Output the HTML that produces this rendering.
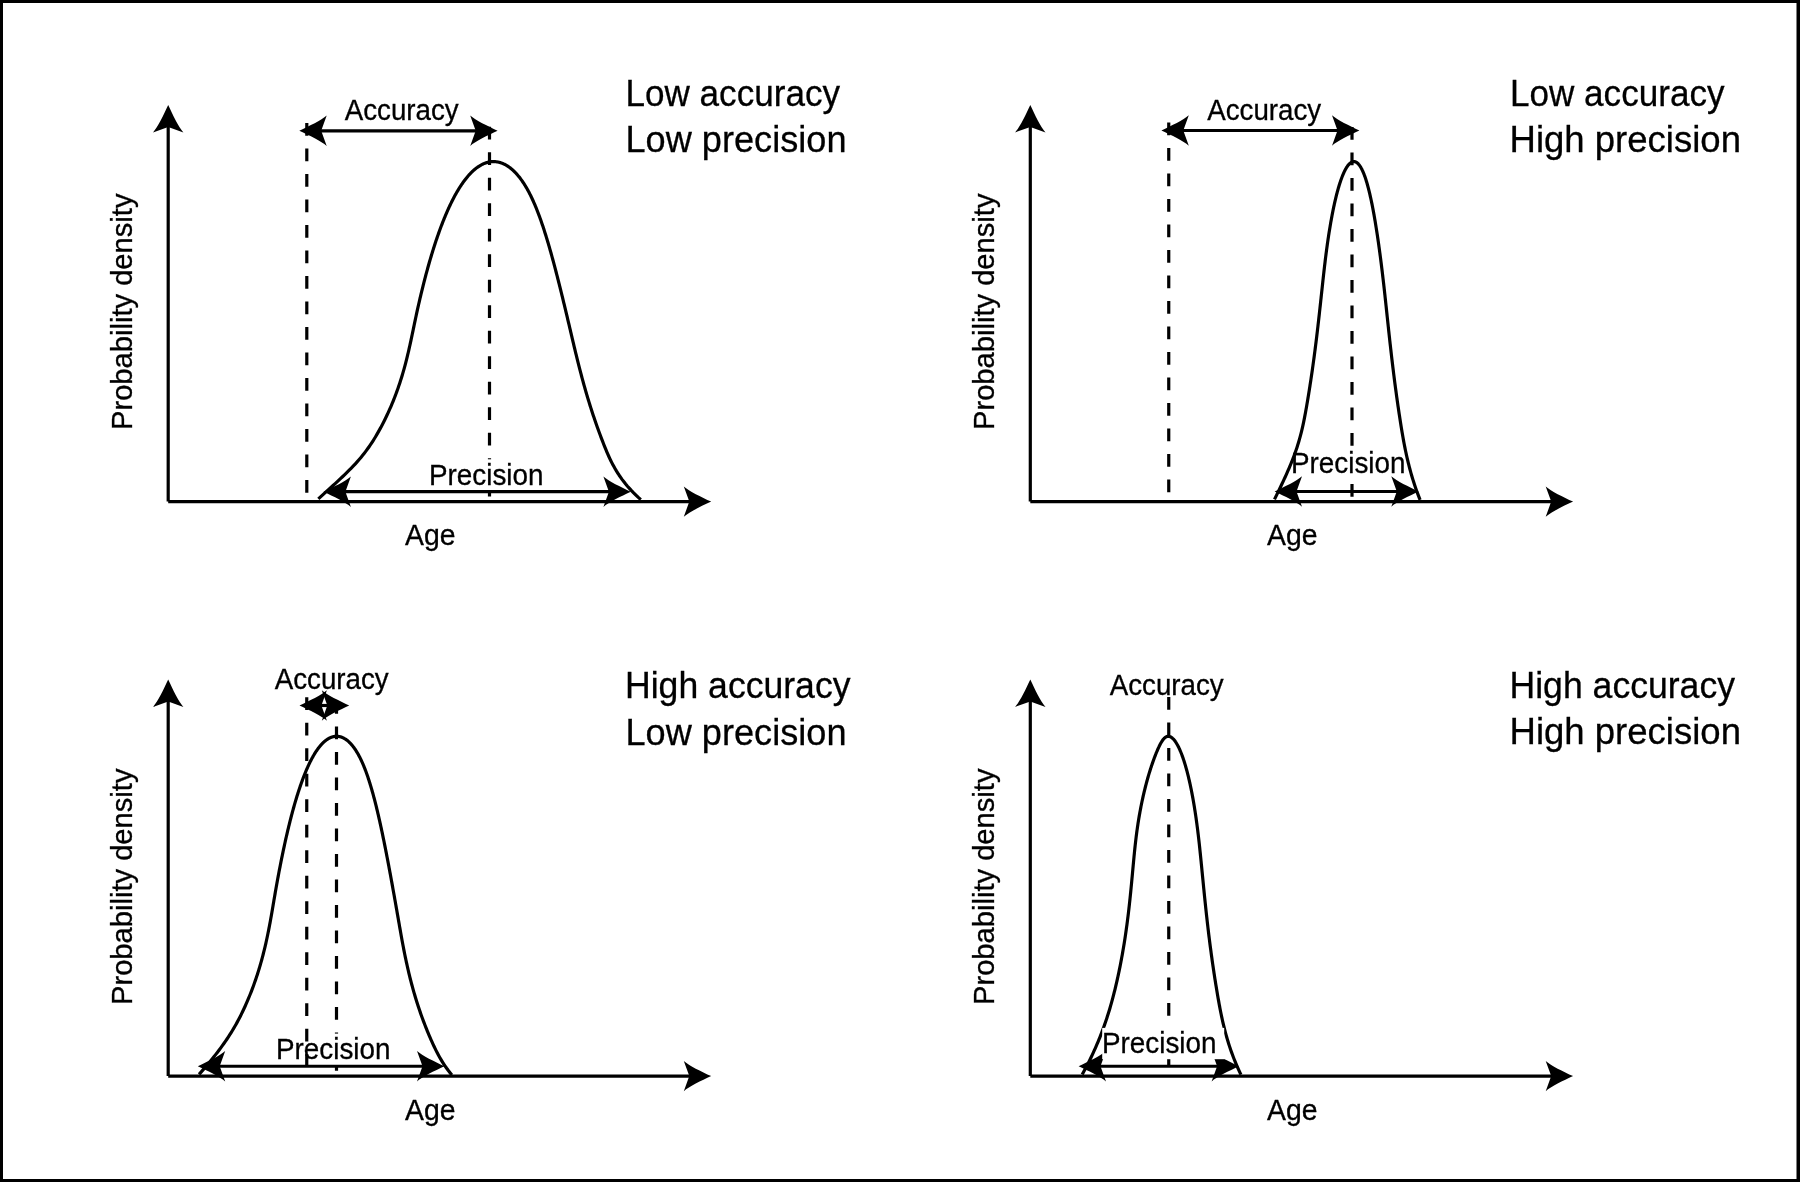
<!DOCTYPE html>
<html><head><meta charset="utf-8"><title>Accuracy and precision</title>
<style>
html,body{margin:0;padding:0;background:#fff;}
body{width:1800px;height:1182px;overflow:hidden;position:relative;font-family:"Liberation Sans",sans-serif;}
svg{position:absolute;left:0;top:0;will-change:transform;}
text{font-family:"Liberation Sans",sans-serif;fill:#000;stroke:#000;stroke-width:0.3px;}
</style></head>
<body>
<svg width="1800" height="1182" viewBox="0 0 1800 1182">
<rect x="0" y="0" width="1800" height="1182" fill="#fff"/>
<!-- panel 1 -->
<line x1="489.5" y1="126.8" x2="489.5" y2="501" stroke="#000" stroke-width="3.19" stroke-dasharray="12.75 12.75" stroke-dashoffset="0"/>
<path d="M318.34,498.90 L320.80,496.65 L323.27,494.41 L325.73,492.17 L328.18,489.95 L330.63,487.73 L333.05,485.51 L335.46,483.31 L337.84,481.11 L340.19,478.92 L342.50,476.74 L344.77,474.57 L347.00,472.40 L349.18,470.24 L351.30,468.09 L353.37,465.94 L355.37,463.81 L357.30,461.68 L359.16,459.56 L360.94,457.44 L362.66,455.33 L364.32,453.23 L365.91,451.14 L367.44,449.06 L368.92,446.98 L370.34,444.91 L371.71,442.85 L373.04,440.80 L374.32,438.75 L375.56,436.71 L376.76,434.68 L377.92,432.66 L379.05,430.64 L380.16,428.63 L381.23,426.63 L382.28,424.64 L383.31,422.65 L384.31,420.67 L385.29,418.70 L386.24,416.74 L387.17,414.78 L388.08,412.83 L388.97,410.89 L389.83,408.96 L390.68,407.03 L391.50,405.11 L392.30,403.20 L393.08,401.30 L393.84,399.40 L394.59,397.51 L395.31,395.63 L396.02,393.76 L396.70,391.89 L397.37,390.03 L398.03,388.18 L398.66,386.34 L399.29,384.50 L399.89,382.68 L400.48,380.85 L401.06,379.04 L401.62,377.24 L402.16,375.44 L402.70,373.65 L403.21,371.86 L403.72,370.09 L404.22,368.32 L404.70,366.56 L405.17,364.81 L405.63,363.06 L406.08,361.32 L406.52,359.59 L406.95,357.87 L407.37,356.16 L407.78,354.45 L408.19,352.75 L408.58,351.05 L408.97,349.37 L409.35,347.69 L409.73,346.02 L410.09,344.36 L410.46,342.70 L410.81,341.06 L411.16,339.42 L411.51,337.78 L411.85,336.16 L412.19,334.54 L412.53,332.93 L412.86,331.33 L413.20,329.73 L413.52,328.15 L413.85,326.57 L414.18,324.99 L414.50,323.43 L414.83,321.87 L415.16,320.32 L415.48,318.78 L415.81,317.25 L416.14,315.72 L416.46,314.20 L416.79,312.69 L417.12,311.18 L417.45,309.69 L417.79,308.20 L418.12,306.71 L418.45,305.24 L418.78,303.77 L419.12,302.31 L419.45,300.86 L419.79,299.42 L420.12,297.98 L420.46,296.55 L420.80,295.13 L421.14,293.72 L421.48,292.31 L421.82,290.91 L422.16,289.52 L422.50,288.13 L422.84,286.76 L423.18,285.39 L423.52,284.03 L423.87,282.67 L424.21,281.33 L424.56,279.99 L424.90,278.66 L425.25,277.33 L425.60,276.02 L425.94,274.71 L426.29,273.41 L426.64,272.11 L426.99,270.83 L427.34,269.55 L427.69,268.28 L428.04,267.01 L428.39,265.76 L428.75,264.51 L429.10,263.27 L429.45,262.03 L429.81,260.81 L430.16,259.59 L430.52,258.38 L430.87,257.18 L431.23,255.98 L431.59,254.79 L431.95,253.61 L432.30,252.44 L432.66,251.27 L433.02,250.11 L433.38,248.96 L433.74,247.82 L434.11,246.68 L434.47,245.56 L434.83,244.44 L435.19,243.32 L435.56,242.22 L435.92,241.12 L436.29,240.03 L436.65,238.95 L437.02,237.87 L437.39,236.80 L437.75,235.74 L438.12,234.69 L438.49,233.64 L438.86,232.61 L439.23,231.58 L439.60,230.55 L439.97,229.54 L440.34,228.53 L440.71,227.53 L441.08,226.54 L441.46,225.55 L441.83,224.58 L442.20,223.61 L442.58,222.64 L442.95,221.69 L443.33,220.74 L443.70,219.80 L444.08,218.87 L444.46,217.94 L444.83,217.03 L445.21,216.12 L445.59,215.21 L445.97,214.32 L446.35,213.43 L446.73,212.55 L447.11,211.68 L447.49,210.82 L447.87,209.96 L448.25,209.11 L448.63,208.27 L449.02,207.43 L449.40,206.61 L449.78,205.79 L450.17,204.97 L450.55,204.17 L450.94,203.37 L451.32,202.58 L451.71,201.80 L452.10,201.03 L452.48,200.26 L452.87,199.50 L453.26,198.75 L453.65,198.01 L454.03,197.27 L454.42,196.54 L454.81,195.82 L455.20,195.10 L455.59,194.40 L455.98,193.70 L456.38,193.01 L456.77,192.32 L457.16,191.65 L457.55,190.98 L457.95,190.32 L458.34,189.66 L458.73,189.02 L459.13,188.38 L459.52,187.75 L459.92,187.12 L460.31,186.51 L460.71,185.90 L461.11,185.30 L461.50,184.70 L461.90,184.12 L462.30,183.54 L462.70,182.97 L463.09,182.41 L463.49,181.85 L463.89,181.30 L464.29,180.76 L464.69,180.23 L465.09,179.70 L465.49,179.18 L465.89,178.67 L466.29,178.17 L466.70,177.67 L467.10,177.18 L467.50,176.70 L467.90,176.23 L468.31,175.77 L468.71,175.31 L469.11,174.86 L469.52,174.41 L469.92,173.98 L470.33,173.55 L470.73,173.13 L471.14,172.72 L471.54,172.31 L471.95,171.91 L472.36,171.52 L472.76,171.14 L473.17,170.77 L473.58,170.40 L473.99,170.04 L474.40,169.68 L474.80,169.34 L475.21,169.00 L475.62,168.67 L476.03,168.35 L476.44,168.03 L476.85,167.73 L477.26,167.43 L477.67,167.13 L478.08,166.85 L478.49,166.57 L478.90,166.30 L479.32,166.04 L479.73,165.79 L480.14,165.54 L480.55,165.30 L480.96,165.07 L481.38,164.84 L481.79,164.62 L482.20,164.41 L482.62,164.21 L483.03,164.02 L483.44,163.83 L483.86,163.65 L484.27,163.48 L484.68,163.31 L485.10,163.16 L485.51,163.01 L485.92,162.87 L486.34,162.73 L486.75,162.61 L487.17,162.49 L487.58,162.37 L487.99,162.27 L488.41,162.17 L488.82,162.08 L489.23,162.00 L489.65,161.93 L490.06,161.86 L490.48,161.80 L490.89,161.75 L491.30,161.71 L491.72,161.67 L492.13,161.64 L492.54,161.62 L492.96,161.61 L493.37,161.60 L493.78,161.60 L494.20,161.61 L494.61,161.63 L495.02,161.65 L495.43,161.68 L495.85,161.72 L496.26,161.77 L496.67,161.82 L497.08,161.88 L497.49,161.95 L497.90,162.03 L498.31,162.11 L498.72,162.20 L499.13,162.30 L499.54,162.41 L499.95,162.52 L500.36,162.64 L500.77,162.77 L501.18,162.91 L501.59,163.05 L502.00,163.21 L502.41,163.37 L502.81,163.53 L503.22,163.71 L503.63,163.89 L504.03,164.08 L504.44,164.27 L504.84,164.48 L505.25,164.69 L505.65,164.91 L506.06,165.14 L506.46,165.37 L506.86,165.61 L507.27,165.86 L507.67,166.12 L508.07,166.39 L508.47,166.66 L508.87,166.94 L509.27,167.22 L509.67,167.52 L510.07,167.82 L510.47,168.13 L510.87,168.45 L511.27,168.77 L511.66,169.11 L512.06,169.45 L512.45,169.79 L512.85,170.15 L513.24,170.51 L513.64,170.88 L514.03,171.26 L514.42,171.64 L514.81,172.04 L515.21,172.44 L515.60,172.84 L515.99,173.26 L516.37,173.68 L516.76,174.11 L517.15,174.55 L517.54,175.00 L517.92,175.45 L518.31,175.91 L518.69,176.38 L519.08,176.85 L519.46,177.34 L519.84,177.83 L520.22,178.32 L520.60,178.83 L520.98,179.34 L521.36,179.86 L521.74,180.39 L522.11,180.93 L522.49,181.47 L522.87,182.02 L523.24,182.58 L523.61,183.15 L523.99,183.72 L524.36,184.30 L524.73,184.89 L525.10,185.48 L525.47,186.09 L525.83,186.70 L526.20,187.32 L526.57,187.94 L526.93,188.58 L527.29,189.22 L527.66,189.87 L528.02,190.52 L528.38,191.19 L528.74,191.86 L529.10,192.54 L529.45,193.22 L529.81,193.92 L530.17,194.62 L530.52,195.33 L530.87,196.04 L531.22,196.77 L531.58,197.50 L531.93,198.24 L532.27,198.98 L532.62,199.74 L532.97,200.50 L533.32,201.27 L533.66,202.04 L534.01,202.83 L534.35,203.62 L534.69,204.42 L535.03,205.23 L535.38,206.04 L535.72,206.86 L536.06,207.69 L536.39,208.53 L536.73,209.37 L537.07,210.22 L537.41,211.08 L537.74,211.95 L538.08,212.82 L538.42,213.71 L538.75,214.60 L539.08,215.49 L539.42,216.40 L539.75,217.31 L540.08,218.23 L540.42,219.16 L540.75,220.09 L541.08,221.03 L541.41,221.98 L541.74,222.94 L542.07,223.91 L542.40,224.88 L542.73,225.86 L543.06,226.85 L543.39,227.84 L543.72,228.84 L544.05,229.85 L544.37,230.87 L544.70,231.90 L545.03,232.93 L545.36,233.97 L545.69,235.02 L546.01,236.07 L546.34,237.13 L546.67,238.20 L547.00,239.28 L547.32,240.37 L547.65,241.46 L547.98,242.56 L548.30,243.67 L548.63,244.78 L548.96,245.91 L549.29,247.04 L549.62,248.17 L549.94,249.32 L550.27,250.47 L550.60,251.63 L550.93,252.80 L551.26,253.98 L551.59,255.16 L551.92,256.35 L552.25,257.55 L552.58,258.75 L552.91,259.97 L553.24,261.19 L553.57,262.42 L553.90,263.65 L554.23,264.90 L554.56,266.15 L554.90,267.41 L555.23,268.67 L555.56,269.94 L555.90,271.23 L556.23,272.51 L556.57,273.81 L556.90,275.11 L557.24,276.42 L557.58,277.74 L557.91,279.07 L558.25,280.40 L558.59,281.74 L558.93,283.09 L559.27,284.45 L559.61,285.81 L559.96,287.18 L560.30,288.56 L560.64,289.95 L560.99,291.34 L561.33,292.75 L561.68,294.15 L562.03,295.57 L562.38,296.99 L562.73,298.43 L563.08,299.87 L563.43,301.31 L563.78,302.77 L564.13,304.23 L564.49,305.70 L564.84,307.17 L565.20,308.66 L565.56,310.15 L565.91,311.65 L566.27,313.16 L566.64,314.67 L567.00,316.19 L567.36,317.72 L567.73,319.26 L568.09,320.80 L568.46,322.36 L568.83,323.92 L569.20,325.48 L569.57,327.06 L569.94,328.64 L570.32,330.23 L570.69,331.83 L571.07,333.43 L571.45,335.04 L571.83,336.66 L572.21,338.29 L572.60,339.92 L572.98,341.57 L573.38,343.22 L573.77,344.87 L574.17,346.54 L574.56,348.21 L574.97,349.89 L575.37,351.58 L575.79,353.27 L576.20,354.98 L576.62,356.69 L577.04,358.40 L577.47,360.13 L577.90,361.86 L578.34,363.60 L578.78,365.35 L579.23,367.11 L579.68,368.87 L580.14,370.64 L580.60,372.42 L581.07,374.20 L581.55,376.00 L582.03,377.80 L582.52,379.60 L583.01,381.42 L583.51,383.24 L584.02,385.07 L584.54,386.91 L585.06,388.76 L585.59,390.61 L586.13,392.47 L586.68,394.34 L587.23,396.21 L587.79,398.10 L588.37,399.99 L588.95,401.89 L589.53,403.79 L590.13,405.71 L590.74,407.63 L591.35,409.56 L591.98,411.49 L592.62,413.43 L593.26,415.39 L593.92,417.34 L594.58,419.31 L595.26,421.28 L595.94,423.27 L596.64,425.25 L597.35,427.25 L598.07,429.25 L598.80,431.26 L599.54,433.28 L600.29,435.31 L601.06,437.34 L601.84,439.39 L602.63,441.43 L603.43,443.49 L604.24,445.55 L605.07,447.63 L605.92,449.70 L606.79,451.79 L607.69,453.89 L608.62,455.99 L609.58,458.10 L610.59,460.21 L611.64,462.34 L612.74,464.47 L613.90,466.61 L615.11,468.75 L616.39,470.91 L617.74,473.07 L619.15,475.24 L620.65,477.42 L622.22,479.60 L623.89,481.79 L625.64,483.99 L627.48,486.20 L629.43,488.41 L631.48,490.64 L633.64,492.87 L635.91,495.10 L638.30,497.35 L640.81,499.60" fill="none" stroke="#000" stroke-width="3.19" stroke-linejoin="round"/>
<rect x="428" y="459.3" width="122.5" height="31.5" fill="#fff"/>
<text x="429" y="484.5" font-size="29" textLength="114.5" lengthAdjust="spacingAndGlyphs" >Precision</text>
<line x1="306.8" y1="123" x2="306.8" y2="493.1" stroke="#000" stroke-width="3.19" stroke-dasharray="12.75 12.75" stroke-dashoffset="0"/>
<line x1="168.2" y1="123" x2="168.2" y2="501.6" stroke="#000" stroke-width="3.19"/><line x1="168.2" y1="501.6" x2="693.2" y2="501.6" stroke="#000" stroke-width="3.19"/><path d="M0,0 C-10,-4.7 -22,-10.3 -27.4,-15.2 L-21.9,0 L-27.4,15.2 C-22,10.3 -10,4.7 0,0Z" transform="translate(168.2 105) rotate(-90)" fill="#000"/><path d="M0,0 C-10,-4.7 -22,-10.3 -27.4,-15.2 L-21.9,0 L-27.4,15.2 C-22,10.3 -10,4.7 0,0Z" transform="translate(711.2 501.6) rotate(0)" fill="#000"/>
<line x1="317.3" y1="130.8" x2="479.6" y2="130.8" stroke="#000" stroke-width="3.19"/><path d="M0,0 C-10,-4.7 -22,-10.3 -27.4,-15.2 L-21.9,0 L-27.4,15.2 C-22,10.3 -10,4.7 0,0Z" transform="translate(299.3 130.8) rotate(180)" fill="#000"/><path d="M0,0 C-10,-4.7 -22,-10.3 -27.4,-15.2 L-21.9,0 L-27.4,15.2 C-22,10.3 -10,4.7 0,0Z" transform="translate(497.6 130.8) rotate(0)" fill="#000"/>
<line x1="341.5" y1="491.7" x2="612.8" y2="491.7" stroke="#000" stroke-width="3.19"/><path d="M0,0 C-10,-4.7 -22,-10.3 -27.4,-15.2 L-21.9,0 L-27.4,15.2 C-22,10.3 -10,4.7 0,0Z" transform="translate(323.5 491.7) rotate(180)" fill="#000"/><path d="M0,0 C-10,-4.7 -22,-10.3 -27.4,-15.2 L-21.9,0 L-27.4,15.2 C-22,10.3 -10,4.7 0,0Z" transform="translate(630.8 491.7) rotate(0)" fill="#000"/>
<text x="344.7" y="119.6" font-size="29" textLength="114" lengthAdjust="spacingAndGlyphs" >Accuracy</text>
<text x="405" y="544.5" font-size="29" textLength="50.5" lengthAdjust="spacingAndGlyphs" >Age</text>
<text transform="translate(131.5 430) rotate(-90)" font-size="29" textLength="236.5" lengthAdjust="spacingAndGlyphs">Probability density</text>
<text x="625.5" y="106.2" font-size="37" textLength="214.5" lengthAdjust="spacingAndGlyphs" >Low accuracy</text>
<text x="625.5" y="151.7" font-size="37" textLength="221" lengthAdjust="spacingAndGlyphs" >Low precision</text>
<!-- panel 2 -->
<line x1="1352" y1="127" x2="1352" y2="501" stroke="#000" stroke-width="3.19" stroke-dasharray="12.75 12.75" stroke-dashoffset="0"/>
<rect x="1290" y="448.75" width="114.5" height="31" fill="#fff"/>
<text x="1291" y="473.25" font-size="29" textLength="114.5" lengthAdjust="spacingAndGlyphs" >Precision</text>
<path d="M1274.50,499.40 L1275.60,497.15 L1276.70,494.90 L1277.78,492.66 L1278.86,490.43 L1279.93,488.21 L1280.98,486.00 L1282.03,483.79 L1283.06,481.59 L1284.07,479.40 L1285.08,477.21 L1286.06,475.03 L1287.03,472.86 L1287.98,470.70 L1288.91,468.55 L1289.83,466.40 L1290.72,464.26 L1291.59,462.13 L1292.43,460.00 L1293.26,457.89 L1294.06,455.78 L1294.83,453.67 L1295.57,451.58 L1296.29,449.49 L1296.98,447.41 L1297.64,445.34 L1298.28,443.28 L1298.89,441.22 L1299.47,439.17 L1300.04,437.13 L1300.58,435.09 L1301.10,433.07 L1301.60,431.05 L1302.08,429.04 L1302.54,427.03 L1302.99,425.04 L1303.42,423.05 L1303.83,421.07 L1304.23,419.09 L1304.62,417.12 L1305.00,415.17 L1305.36,413.21 L1305.72,411.27 L1306.07,409.33 L1306.40,407.41 L1306.74,405.48 L1307.07,403.57 L1307.39,401.67 L1307.71,399.77 L1308.02,397.88 L1308.33,395.99 L1308.64,394.12 L1308.94,392.25 L1309.23,390.39 L1309.53,388.53 L1309.82,386.69 L1310.10,384.85 L1310.38,383.02 L1310.66,381.20 L1310.94,379.38 L1311.21,377.57 L1311.47,375.77 L1311.73,373.98 L1311.99,372.19 L1312.25,370.41 L1312.50,368.64 L1312.75,366.88 L1313.00,365.13 L1313.24,363.38 L1313.48,361.64 L1313.72,359.90 L1313.95,358.18 L1314.18,356.46 L1314.41,354.75 L1314.63,353.05 L1314.85,351.35 L1315.07,349.67 L1315.28,347.99 L1315.50,346.31 L1315.71,344.65 L1315.92,342.99 L1316.12,341.34 L1316.32,339.70 L1316.52,338.07 L1316.72,336.44 L1316.92,334.82 L1317.11,333.21 L1317.30,331.60 L1317.49,330.00 L1317.67,328.41 L1317.86,326.83 L1318.04,325.26 L1318.22,323.69 L1318.40,322.13 L1318.57,320.58 L1318.75,319.04 L1318.92,317.50 L1319.09,315.97 L1319.26,314.45 L1319.43,312.93 L1319.60,311.43 L1319.76,309.93 L1319.93,308.44 L1320.09,306.95 L1320.25,305.48 L1320.41,304.01 L1320.57,302.55 L1320.72,301.09 L1320.88,299.65 L1321.04,298.21 L1321.19,296.78 L1321.34,295.35 L1321.50,293.94 L1321.65,292.53 L1321.80,291.13 L1321.95,289.73 L1322.10,288.35 L1322.25,286.97 L1322.39,285.60 L1322.54,284.23 L1322.69,282.88 L1322.83,281.53 L1322.98,280.19 L1323.13,278.86 L1323.27,277.53 L1323.42,276.21 L1323.56,274.90 L1323.71,273.60 L1323.86,272.30 L1324.00,271.01 L1324.15,269.73 L1324.29,268.46 L1324.44,267.19 L1324.58,265.94 L1324.73,264.69 L1324.88,263.44 L1325.03,262.21 L1325.17,260.98 L1325.32,259.76 L1325.47,258.55 L1325.62,257.34 L1325.77,256.15 L1325.92,254.95 L1326.07,253.77 L1326.22,252.60 L1326.38,251.43 L1326.53,250.27 L1326.68,249.12 L1326.84,247.97 L1326.99,246.84 L1327.15,245.71 L1327.31,244.58 L1327.46,243.47 L1327.62,242.36 L1327.78,241.26 L1327.94,240.17 L1328.10,239.09 L1328.26,238.01 L1328.42,236.94 L1328.58,235.88 L1328.74,234.82 L1328.90,233.78 L1329.06,232.74 L1329.22,231.70 L1329.39,230.68 L1329.55,229.66 L1329.72,228.65 L1329.88,227.65 L1330.05,226.66 L1330.21,225.67 L1330.38,224.69 L1330.55,223.72 L1330.71,222.76 L1330.88,221.80 L1331.05,220.85 L1331.22,219.91 L1331.39,218.98 L1331.56,218.05 L1331.73,217.13 L1331.90,216.22 L1332.07,215.32 L1332.24,214.42 L1332.41,213.53 L1332.58,212.65 L1332.76,211.78 L1332.93,210.91 L1333.10,210.05 L1333.28,209.20 L1333.45,208.36 L1333.62,207.52 L1333.80,206.70 L1333.97,205.88 L1334.15,205.06 L1334.32,204.26 L1334.50,203.46 L1334.68,202.67 L1334.85,201.88 L1335.03,201.11 L1335.21,200.34 L1335.39,199.58 L1335.57,198.83 L1335.74,198.08 L1335.92,197.34 L1336.10,196.61 L1336.28,195.89 L1336.46,195.18 L1336.64,194.47 L1336.82,193.77 L1337.00,193.08 L1337.18,192.39 L1337.36,191.71 L1337.54,191.04 L1337.73,190.38 L1337.91,189.73 L1338.09,189.08 L1338.27,188.44 L1338.45,187.81 L1338.64,187.18 L1338.82,186.56 L1339.00,185.95 L1339.19,185.35 L1339.37,184.76 L1339.55,184.17 L1339.74,183.59 L1339.92,183.02 L1340.10,182.45 L1340.29,181.90 L1340.47,181.35 L1340.66,180.81 L1340.84,180.27 L1341.03,179.75 L1341.21,179.23 L1341.40,178.71 L1341.58,178.21 L1341.77,177.71 L1341.95,177.22 L1342.14,176.74 L1342.33,176.27 L1342.51,175.80 L1342.70,175.34 L1342.88,174.89 L1343.07,174.45 L1343.26,174.01 L1343.44,173.58 L1343.63,173.16 L1343.82,172.75 L1344.00,172.34 L1344.19,171.94 L1344.38,171.55 L1344.56,171.17 L1344.75,170.79 L1344.94,170.42 L1345.12,170.06 L1345.31,169.71 L1345.50,169.36 L1345.68,169.03 L1345.87,168.69 L1346.06,168.37 L1346.24,168.06 L1346.43,167.75 L1346.62,167.45 L1346.80,167.15 L1346.99,166.87 L1347.18,166.59 L1347.36,166.32 L1347.55,166.06 L1347.74,165.80 L1347.92,165.55 L1348.11,165.31 L1348.30,165.08 L1348.48,164.86 L1348.67,164.64 L1348.85,164.43 L1349.04,164.22 L1349.23,164.03 L1349.41,163.84 L1349.60,163.66 L1349.78,163.49 L1349.97,163.32 L1350.15,163.17 L1350.34,163.02 L1350.52,162.87 L1350.71,162.74 L1350.89,162.61 L1351.08,162.49 L1351.26,162.38 L1351.45,162.28 L1351.63,162.18 L1351.81,162.09 L1352.00,162.01 L1352.18,161.93 L1352.36,161.87 L1352.55,161.81 L1352.73,161.75 L1352.91,161.71 L1353.10,161.67 L1353.28,161.64 L1353.46,161.62 L1353.64,161.61 L1353.82,161.60 L1354.00,161.60 L1354.18,161.61 L1354.37,161.63 L1354.55,161.65 L1354.73,161.68 L1354.91,161.72 L1355.09,161.76 L1355.27,161.82 L1355.45,161.88 L1355.62,161.95 L1355.80,162.02 L1355.98,162.11 L1356.16,162.20 L1356.34,162.30 L1356.52,162.40 L1356.69,162.52 L1356.87,162.64 L1357.05,162.77 L1357.23,162.91 L1357.40,163.05 L1357.58,163.20 L1357.76,163.36 L1357.93,163.53 L1358.11,163.70 L1358.28,163.88 L1358.46,164.07 L1358.63,164.27 L1358.81,164.47 L1358.98,164.68 L1359.16,164.90 L1359.33,165.13 L1359.51,165.37 L1359.68,165.61 L1359.85,165.86 L1360.03,166.11 L1360.20,166.38 L1360.37,166.65 L1360.55,166.93 L1360.72,167.22 L1360.89,167.51 L1361.06,167.82 L1361.24,168.13 L1361.41,168.44 L1361.58,168.77 L1361.75,169.10 L1361.92,169.44 L1362.09,169.79 L1362.27,170.14 L1362.44,170.51 L1362.61,170.88 L1362.78,171.25 L1362.95,171.64 L1363.12,172.03 L1363.29,172.43 L1363.46,172.84 L1363.63,173.25 L1363.80,173.68 L1363.96,174.11 L1364.13,174.55 L1364.30,174.99 L1364.47,175.44 L1364.64,175.91 L1364.81,176.37 L1364.97,176.85 L1365.14,177.33 L1365.31,177.82 L1365.48,178.32 L1365.64,178.83 L1365.81,179.34 L1365.98,179.86 L1366.15,180.39 L1366.31,180.93 L1366.48,181.47 L1366.64,182.02 L1366.81,182.58 L1366.98,183.15 L1367.14,183.72 L1367.31,184.30 L1367.47,184.89 L1367.64,185.49 L1367.80,186.09 L1367.97,186.70 L1368.13,187.32 L1368.30,187.95 L1368.46,188.58 L1368.63,189.22 L1368.79,189.87 L1368.96,190.53 L1369.12,191.19 L1369.28,191.86 L1369.45,192.54 L1369.61,193.23 L1369.77,193.92 L1369.94,194.62 L1370.10,195.33 L1370.26,196.05 L1370.43,196.78 L1370.59,197.51 L1370.75,198.25 L1370.91,198.99 L1371.08,199.75 L1371.24,200.51 L1371.40,201.28 L1371.56,202.06 L1371.72,202.84 L1371.89,203.63 L1372.05,204.43 L1372.21,205.24 L1372.37,206.06 L1372.53,206.88 L1372.69,207.71 L1372.85,208.55 L1373.01,209.39 L1373.17,210.24 L1373.33,211.10 L1373.49,211.97 L1373.66,212.85 L1373.82,213.73 L1373.98,214.62 L1374.14,215.52 L1374.30,216.42 L1374.45,217.34 L1374.61,218.26 L1374.77,219.18 L1374.93,220.12 L1375.09,221.06 L1375.25,222.01 L1375.41,222.97 L1375.57,223.94 L1375.73,224.91 L1375.89,225.89 L1376.05,226.88 L1376.20,227.87 L1376.36,228.88 L1376.52,229.89 L1376.68,230.91 L1376.84,231.93 L1377.00,232.97 L1377.15,234.01 L1377.31,235.06 L1377.47,236.11 L1377.63,237.18 L1377.79,238.25 L1377.94,239.33 L1378.10,240.41 L1378.26,241.51 L1378.42,242.61 L1378.57,243.72 L1378.73,244.83 L1378.89,245.96 L1379.04,247.09 L1379.20,248.23 L1379.36,249.37 L1379.51,250.53 L1379.67,251.69 L1379.83,252.86 L1379.98,254.03 L1380.14,255.22 L1380.30,256.41 L1380.45,257.61 L1380.61,258.82 L1380.77,260.03 L1380.92,261.25 L1381.08,262.48 L1381.24,263.72 L1381.39,264.96 L1381.55,266.21 L1381.70,267.47 L1381.86,268.74 L1382.01,270.02 L1382.17,271.30 L1382.33,272.59 L1382.48,273.89 L1382.64,275.19 L1382.79,276.50 L1382.95,277.82 L1383.10,279.15 L1383.26,280.48 L1383.41,281.83 L1383.57,283.18 L1383.73,284.53 L1383.88,285.90 L1384.04,287.27 L1384.19,288.65 L1384.35,290.04 L1384.50,291.44 L1384.66,292.84 L1384.81,294.25 L1384.97,295.67 L1385.12,297.09 L1385.28,298.52 L1385.43,299.97 L1385.59,301.41 L1385.74,302.87 L1385.90,304.33 L1386.06,305.80 L1386.22,307.28 L1386.37,308.77 L1386.53,310.26 L1386.69,311.76 L1386.85,313.27 L1387.01,314.78 L1387.17,316.31 L1387.34,317.84 L1387.50,319.38 L1387.66,320.92 L1387.83,322.48 L1388.00,324.04 L1388.16,325.61 L1388.33,327.18 L1388.50,328.77 L1388.67,330.36 L1388.85,331.96 L1389.02,333.56 L1389.19,335.18 L1389.37,336.80 L1389.55,338.43 L1389.73,340.06 L1389.91,341.71 L1390.09,343.36 L1390.28,345.02 L1390.47,346.68 L1390.66,348.36 L1390.85,350.04 L1391.04,351.73 L1391.23,353.43 L1391.43,355.13 L1391.63,356.84 L1391.83,358.56 L1392.03,360.29 L1392.24,362.02 L1392.45,363.76 L1392.66,365.51 L1392.87,367.27 L1393.09,369.04 L1393.31,370.81 L1393.53,372.59 L1393.75,374.37 L1393.98,376.17 L1394.20,377.97 L1394.44,379.78 L1394.67,381.60 L1394.91,383.42 L1395.15,385.26 L1395.39,387.10 L1395.64,388.94 L1395.89,390.80 L1396.14,392.66 L1396.40,394.53 L1396.66,396.41 L1396.92,398.29 L1397.19,400.19 L1397.45,402.09 L1397.73,403.99 L1398.00,405.91 L1398.29,407.83 L1398.57,409.76 L1398.86,411.70 L1399.15,413.65 L1399.44,415.60 L1399.74,417.56 L1400.05,419.53 L1400.35,421.50 L1400.67,423.49 L1400.98,425.48 L1401.30,427.48 L1401.63,429.48 L1401.96,431.49 L1402.31,433.52 L1402.65,435.54 L1403.01,437.58 L1403.38,439.62 L1403.76,441.67 L1404.14,443.73 L1404.54,445.80 L1404.95,447.87 L1405.38,449.95 L1405.81,452.04 L1406.26,454.14 L1406.73,456.24 L1407.21,458.35 L1407.70,460.47 L1408.22,462.60 L1408.75,464.73 L1409.29,466.87 L1409.86,469.02 L1410.44,471.18 L1411.05,473.34 L1411.67,475.52 L1412.32,477.69 L1412.99,479.88 L1413.68,482.08 L1414.39,484.28 L1415.13,486.49 L1415.89,488.70 L1416.67,490.93 L1417.49,493.16 L1418.33,495.40 L1419.19,497.65 L1420.08,499.90" fill="none" stroke="#000" stroke-width="3.19" stroke-linejoin="round"/>
<line x1="1168.75" y1="122.5" x2="1168.75" y2="492.6" stroke="#000" stroke-width="3.19" stroke-dasharray="12.75 12.75" stroke-dashoffset="0"/>
<line x1="1030.3" y1="123" x2="1030.3" y2="501.6" stroke="#000" stroke-width="3.19"/><line x1="1030.3" y1="501.6" x2="1555.1" y2="501.6" stroke="#000" stroke-width="3.19"/><path d="M0,0 C-10,-4.7 -22,-10.3 -27.4,-15.2 L-21.9,0 L-27.4,15.2 C-22,10.3 -10,4.7 0,0Z" transform="translate(1030.3 105) rotate(-90)" fill="#000"/><path d="M0,0 C-10,-4.7 -22,-10.3 -27.4,-15.2 L-21.9,0 L-27.4,15.2 C-22,10.3 -10,4.7 0,0Z" transform="translate(1573.1 501.6) rotate(0)" fill="#000"/>
<line x1="1179.4" y1="130.5" x2="1341.4" y2="130.5" stroke="#000" stroke-width="3.19"/><path d="M0,0 C-10,-4.7 -22,-10.3 -27.4,-15.2 L-21.9,0 L-27.4,15.2 C-22,10.3 -10,4.7 0,0Z" transform="translate(1161.4 130.5) rotate(180)" fill="#000"/><path d="M0,0 C-10,-4.7 -22,-10.3 -27.4,-15.2 L-21.9,0 L-27.4,15.2 C-22,10.3 -10,4.7 0,0Z" transform="translate(1359.4 130.5) rotate(0)" fill="#000"/>
<line x1="1292.6" y1="491.5" x2="1400.7" y2="491.5" stroke="#000" stroke-width="3.19"/><path d="M0,0 C-10,-4.7 -22,-10.3 -27.4,-15.2 L-21.9,0 L-27.4,15.2 C-22,10.3 -10,4.7 0,0Z" transform="translate(1274.6 491.5) rotate(180)" fill="#000"/><path d="M0,0 C-10,-4.7 -22,-10.3 -27.4,-15.2 L-21.9,0 L-27.4,15.2 C-22,10.3 -10,4.7 0,0Z" transform="translate(1418.7 491.5) rotate(0)" fill="#000"/>
<text x="1207.2" y="119.5" font-size="29" textLength="114" lengthAdjust="spacingAndGlyphs" >Accuracy</text>
<text x="1267" y="544.5" font-size="29" textLength="50.5" lengthAdjust="spacingAndGlyphs" >Age</text>
<text transform="translate(993.5 430) rotate(-90)" font-size="29" textLength="236.5" lengthAdjust="spacingAndGlyphs">Probability density</text>
<text x="1510" y="105.9" font-size="37" textLength="214.5" lengthAdjust="spacingAndGlyphs" >Low accuracy</text>
<text x="1509.5" y="151.5" font-size="37" textLength="231.5" lengthAdjust="spacingAndGlyphs" >High precision</text>
<!-- panel 3 -->
<line x1="336.5" y1="701.1" x2="336.5" y2="1076" stroke="#000" stroke-width="3.19" stroke-dasharray="12.75 12.75" stroke-dashoffset="0"/>
<path d="M199.07,1074.40 L201.06,1072.15 L203.01,1069.90 L204.94,1067.66 L206.83,1065.43 L208.70,1063.20 L210.52,1060.98 L212.32,1058.77 L214.08,1056.57 L215.81,1054.38 L217.50,1052.19 L219.15,1050.01 L220.76,1047.84 L222.34,1045.67 L223.88,1043.52 L225.38,1041.37 L226.84,1039.23 L228.26,1037.09 L229.64,1034.96 L230.98,1032.85 L232.28,1030.73 L233.54,1028.63 L234.76,1026.53 L235.95,1024.44 L237.10,1022.36 L238.22,1020.29 L239.31,1018.22 L240.37,1016.16 L241.39,1014.11 L242.39,1012.07 L243.37,1010.03 L244.31,1008.00 L245.23,1005.98 L246.13,1003.97 L247.01,1001.96 L247.86,999.96 L248.70,997.97 L249.51,995.99 L250.31,994.01 L251.08,992.05 L251.84,990.09 L252.58,988.13 L253.31,986.19 L254.01,984.25 L254.70,982.32 L255.37,980.40 L256.02,978.48 L256.66,976.57 L257.29,974.67 L257.89,972.78 L258.49,970.89 L259.06,969.02 L259.63,967.15 L260.18,965.28 L260.71,963.43 L261.23,961.58 L261.74,959.74 L262.24,957.91 L262.72,956.08 L263.19,954.27 L263.65,952.46 L264.10,950.65 L264.54,948.86 L264.97,947.07 L265.38,945.29 L265.79,943.52 L266.19,941.75 L266.57,940.00 L266.95,938.25 L267.32,936.51 L267.69,934.77 L268.04,933.05 L268.39,931.33 L268.73,929.61 L269.06,927.91 L269.38,926.21 L269.70,924.52 L270.02,922.84 L270.32,921.17 L270.63,919.50 L270.93,917.84 L271.22,916.19 L271.51,914.55 L271.79,912.91 L272.08,911.28 L272.35,909.66 L272.63,908.05 L272.90,906.44 L273.18,904.84 L273.45,903.25 L273.71,901.67 L273.98,900.09 L274.25,898.52 L274.51,896.96 L274.78,895.41 L275.05,893.86 L275.31,892.33 L275.58,890.80 L275.85,889.27 L276.11,887.76 L276.38,886.25 L276.65,884.75 L276.92,883.26 L277.19,881.77 L277.46,880.29 L277.73,878.82 L278.00,877.36 L278.27,875.90 L278.54,874.46 L278.81,873.02 L279.08,871.58 L279.35,870.16 L279.62,868.74 L279.90,867.33 L280.17,865.93 L280.44,864.53 L280.72,863.15 L280.99,861.77 L281.26,860.40 L281.54,859.03 L281.81,857.67 L282.09,856.32 L282.36,854.98 L282.64,853.65 L282.92,852.32 L283.19,851.00 L283.47,849.69 L283.75,848.38 L284.03,847.09 L284.30,845.80 L284.58,844.52 L284.86,843.24 L285.14,841.98 L285.42,840.72 L285.70,839.47 L285.98,838.22 L286.26,836.99 L286.54,835.76 L286.82,834.54 L287.10,833.32 L287.39,832.12 L287.67,830.92 L287.95,829.73 L288.24,828.54 L288.52,827.37 L288.80,826.20 L289.09,825.04 L289.37,823.88 L289.66,822.74 L289.94,821.60 L290.23,820.47 L290.51,819.34 L290.80,818.23 L291.08,817.12 L291.37,816.02 L291.66,814.93 L291.95,813.84 L292.23,812.76 L292.52,811.69 L292.81,810.63 L293.10,809.58 L293.39,808.53 L293.68,807.49 L293.97,806.45 L294.26,805.43 L294.55,804.41 L294.84,803.40 L295.13,802.40 L295.43,801.40 L295.72,800.42 L296.01,799.44 L296.30,798.46 L296.60,797.50 L296.89,796.54 L297.18,795.59 L297.48,794.65 L297.77,793.72 L298.07,792.79 L298.36,791.87 L298.66,790.96 L298.95,790.05 L299.25,789.16 L299.55,788.27 L299.84,787.39 L300.14,786.51 L300.44,785.64 L300.74,784.79 L301.04,783.93 L301.33,783.09 L301.63,782.25 L301.93,781.42 L302.23,780.60 L302.53,779.79 L302.83,778.98 L303.14,778.18 L303.44,777.39 L303.74,776.61 L304.04,775.83 L304.34,775.06 L304.64,774.30 L304.95,773.55 L305.25,772.80 L305.55,772.07 L305.86,771.33 L306.16,770.61 L306.47,769.90 L306.77,769.19 L307.08,768.49 L307.38,767.79 L307.69,767.11 L308.00,766.43 L308.30,765.76 L308.61,765.10 L308.92,764.44 L309.23,763.79 L309.53,763.15 L309.84,762.52 L310.15,761.89 L310.46,761.28 L310.77,760.67 L311.08,760.06 L311.39,759.47 L311.70,758.88 L312.01,758.30 L312.32,757.73 L312.64,757.16 L312.95,756.61 L313.26,756.06 L313.57,755.51 L313.89,754.98 L314.20,754.45 L314.51,753.93 L314.83,753.42 L315.14,752.92 L315.46,752.42 L315.77,751.93 L316.09,751.45 L316.40,750.97 L316.72,750.51 L317.04,750.05 L317.35,749.60 L317.67,749.15 L317.99,748.72 L318.30,748.29 L318.62,747.86 L318.94,747.45 L319.26,747.04 L319.58,746.65 L319.90,746.25 L320.22,745.87 L320.54,745.49 L320.86,745.13 L321.18,744.76 L321.50,744.41 L321.82,744.06 L322.15,743.73 L322.47,743.40 L322.79,743.07 L323.11,742.76 L323.44,742.45 L323.76,742.15 L324.08,741.85 L324.41,741.57 L324.73,741.29 L325.06,741.02 L325.38,740.76 L325.70,740.50 L326.03,740.25 L326.35,740.01 L326.68,739.78 L327.00,739.55 L327.33,739.34 L327.65,739.13 L327.98,738.92 L328.31,738.73 L328.63,738.54 L328.96,738.36 L329.28,738.19 L329.61,738.02 L329.94,737.86 L330.26,737.72 L330.59,737.57 L330.91,737.44 L331.24,737.31 L331.57,737.19 L331.89,737.08 L332.22,736.97 L332.55,736.88 L332.87,736.79 L333.20,736.71 L333.53,736.63 L333.85,736.56 L334.18,736.50 L334.50,736.45 L334.83,736.41 L335.16,736.37 L335.48,736.34 L335.81,736.32 L336.13,736.31 L336.46,736.30 L336.78,736.30 L337.11,736.31 L337.43,736.33 L337.76,736.35 L338.08,736.38 L338.41,736.42 L338.73,736.47 L339.06,736.52 L339.38,736.58 L339.70,736.65 L340.03,736.73 L340.35,736.81 L340.67,736.90 L341.00,737.00 L341.32,737.11 L341.64,737.22 L341.96,737.34 L342.28,737.47 L342.60,737.61 L342.92,737.75 L343.25,737.91 L343.57,738.07 L343.88,738.23 L344.20,738.41 L344.52,738.59 L344.84,738.78 L345.16,738.98 L345.48,739.18 L345.80,739.39 L346.11,739.61 L346.43,739.84 L346.75,740.07 L347.06,740.32 L347.38,740.57 L347.69,740.82 L348.01,741.09 L348.32,741.36 L348.63,741.64 L348.95,741.93 L349.26,742.23 L349.57,742.53 L349.88,742.84 L350.19,743.16 L350.50,743.48 L350.81,743.82 L351.12,744.16 L351.43,744.50 L351.74,744.86 L352.04,745.22 L352.35,745.59 L352.66,745.97 L352.96,746.36 L353.27,746.75 L353.57,747.15 L353.87,747.56 L354.18,747.98 L354.48,748.40 L354.78,748.83 L355.08,749.27 L355.38,749.72 L355.68,750.17 L355.98,750.63 L356.28,751.10 L356.57,751.58 L356.87,752.06 L357.17,752.55 L357.46,753.05 L357.75,753.56 L358.05,754.07 L358.34,754.59 L358.63,755.12 L358.92,755.66 L359.21,756.20 L359.50,756.75 L359.79,757.31 L360.08,757.88 L360.36,758.45 L360.65,759.04 L360.93,759.63 L361.22,760.22 L361.50,760.83 L361.78,761.44 L362.06,762.06 L362.34,762.69 L362.62,763.32 L362.90,763.96 L363.18,764.61 L363.45,765.27 L363.73,765.94 L364.01,766.61 L364.28,767.29 L364.55,767.98 L364.83,768.67 L365.10,769.37 L365.37,770.08 L365.64,770.80 L365.91,771.53 L366.18,772.26 L366.45,773.00 L366.72,773.75 L366.99,774.50 L367.25,775.27 L367.52,776.04 L367.78,776.82 L368.05,777.60 L368.31,778.40 L368.58,779.20 L368.84,780.00 L369.10,780.82 L369.37,781.64 L369.63,782.47 L369.89,783.31 L370.15,784.16 L370.41,785.01 L370.67,785.87 L370.93,786.74 L371.19,787.62 L371.45,788.50 L371.71,789.39 L371.96,790.29 L372.22,791.20 L372.48,792.11 L372.74,793.03 L372.99,793.96 L373.25,794.90 L373.50,795.84 L373.76,796.80 L374.02,797.76 L374.27,798.72 L374.53,799.70 L374.78,800.68 L375.04,801.67 L375.29,802.66 L375.54,803.67 L375.80,804.68 L376.05,805.70 L376.30,806.73 L376.56,807.76 L376.81,808.81 L377.06,809.85 L377.32,810.91 L377.57,811.98 L377.82,813.05 L378.08,814.13 L378.33,815.22 L378.58,816.31 L378.83,817.41 L379.09,818.52 L379.34,819.64 L379.59,820.77 L379.85,821.90 L380.10,823.04 L380.35,824.19 L380.60,825.34 L380.86,826.51 L381.11,827.68 L381.36,828.86 L381.62,830.04 L381.87,831.23 L382.13,832.43 L382.38,833.64 L382.63,834.86 L382.89,836.08 L383.14,837.31 L383.40,838.55 L383.65,839.80 L383.91,841.05 L384.16,842.31 L384.42,843.58 L384.68,844.86 L384.93,846.14 L385.19,847.43 L385.45,848.73 L385.70,850.04 L385.96,851.35 L386.22,852.67 L386.48,854.00 L386.74,855.34 L387.00,856.68 L387.26,858.03 L387.52,859.39 L387.78,860.76 L388.04,862.13 L388.30,863.51 L388.56,864.90 L388.83,866.30 L389.09,867.71 L389.35,869.12 L389.62,870.54 L389.88,871.96 L390.15,873.40 L390.41,874.84 L390.68,876.29 L390.95,877.75 L391.22,879.21 L391.48,880.68 L391.75,882.16 L392.02,883.65 L392.29,885.15 L392.57,886.65 L392.84,888.16 L393.11,889.68 L393.38,891.20 L393.66,892.73 L393.93,894.27 L394.21,895.82 L394.49,897.38 L394.76,898.94 L395.04,900.51 L395.32,902.09 L395.60,903.67 L395.88,905.27 L396.16,906.87 L396.45,908.48 L396.73,910.09 L397.01,911.71 L397.30,913.35 L397.59,914.98 L397.87,916.63 L398.16,918.28 L398.45,919.94 L398.74,921.61 L399.03,923.29 L399.33,924.97 L399.62,926.66 L399.92,928.36 L400.22,930.07 L400.52,931.78 L400.83,933.50 L401.13,935.23 L401.45,936.97 L401.76,938.71 L402.08,940.46 L402.41,942.22 L402.74,943.99 L403.07,945.76 L403.42,947.54 L403.76,949.33 L404.11,951.13 L404.47,952.94 L404.84,954.75 L405.21,956.57 L405.59,958.39 L405.98,960.23 L406.37,962.07 L406.78,963.92 L407.19,965.78 L407.61,967.64 L408.04,969.51 L408.48,971.39 L408.93,973.28 L409.38,975.18 L409.85,977.08 L410.33,978.99 L410.82,980.90 L411.32,982.83 L411.83,984.76 L412.36,986.70 L412.89,988.65 L413.44,990.61 L414.00,992.57 L414.58,994.54 L415.16,996.52 L415.76,998.50 L416.38,1000.49 L417.00,1002.49 L417.65,1004.50 L418.30,1006.52 L418.98,1008.54 L419.66,1010.57 L420.37,1012.61 L421.08,1014.66 L421.82,1016.71 L422.57,1018.77 L423.34,1020.84 L424.12,1022.91 L424.93,1025.00 L425.75,1027.09 L426.58,1029.19 L427.44,1031.29 L428.31,1033.41 L429.21,1035.53 L430.12,1037.66 L431.05,1039.79 L432.00,1041.94 L432.98,1044.09 L433.99,1046.25 L435.02,1048.41 L436.10,1050.59 L437.22,1052.77 L438.39,1054.96 L439.61,1057.16 L440.89,1059.36 L442.23,1061.57 L443.64,1063.79 L445.12,1066.02 L446.67,1068.25 L448.31,1070.49 L450.04,1072.74 L451.85,1075.00" fill="none" stroke="#000" stroke-width="3.19" stroke-linejoin="round"/>
<rect x="275" y="1033.6" width="122.5" height="31.6" fill="#fff"/>
<text x="276" y="1058.75" font-size="29" textLength="114.5" lengthAdjust="spacingAndGlyphs" >Precision</text>
<line x1="306.75" y1="697.3" x2="306.75" y2="1067.4" stroke="#000" stroke-width="3.19" stroke-dasharray="12.75 12.75" stroke-dashoffset="0"/>
<line x1="168.2" y1="697.5" x2="168.2" y2="1076.1" stroke="#000" stroke-width="3.19"/><line x1="168.2" y1="1076.1" x2="693.2" y2="1076.1" stroke="#000" stroke-width="3.19"/><path d="M0,0 C-10,-4.7 -22,-10.3 -27.4,-15.2 L-21.9,0 L-27.4,15.2 C-22,10.3 -10,4.7 0,0Z" transform="translate(168.2 679.5) rotate(-90)" fill="#000"/><path d="M0,0 C-10,-4.7 -22,-10.3 -27.4,-15.2 L-21.9,0 L-27.4,15.2 C-22,10.3 -10,4.7 0,0Z" transform="translate(711.2 1076.1) rotate(0)" fill="#000"/>
<text x="274.7" y="688.75" font-size="29" textLength="114" lengthAdjust="spacingAndGlyphs" >Accuracy</text>
<line x1="310" y1="705.5" x2="339" y2="705.5" stroke="#000" stroke-width="3.19"/><path d="M0,0 C-10,-4.7 -22,-10.3 -27.4,-15.2 L-21.9,0 L-27.4,15.2 C-22,10.3 -10,4.7 0,0Z" transform="translate(299.5 705.5) rotate(180)" fill="#000"/><path d="M0,0 C-10,-4.7 -22,-10.3 -27.4,-15.2 L-21.9,0 L-27.4,15.2 C-22,10.3 -10,4.7 0,0Z" transform="translate(349.2 705.5) rotate(0)" fill="#000"/>
<line x1="215.8" y1="1066.25" x2="426.4" y2="1066.25" stroke="#000" stroke-width="3.19"/><path d="M0,0 C-10,-4.7 -22,-10.3 -27.4,-15.2 L-21.9,0 L-27.4,15.2 C-22,10.3 -10,4.7 0,0Z" transform="translate(197.8 1066.25) rotate(180)" fill="#000"/><path d="M0,0 C-10,-4.7 -22,-10.3 -27.4,-15.2 L-21.9,0 L-27.4,15.2 C-22,10.3 -10,4.7 0,0Z" transform="translate(444.4 1066.25) rotate(0)" fill="#000"/>
<text x="405" y="1119.5" font-size="29" textLength="50.5" lengthAdjust="spacingAndGlyphs" >Age</text>
<text transform="translate(132 1005) rotate(-90)" font-size="29" textLength="236.5" lengthAdjust="spacingAndGlyphs">Probability density</text>
<text x="625" y="698.3" font-size="37" textLength="225.5" lengthAdjust="spacingAndGlyphs" >High accuracy</text>
<text x="625.5" y="744.5" font-size="37" textLength="221" lengthAdjust="spacingAndGlyphs" >Low precision</text>
<!-- panel 4 -->
<line x1="1168.75" y1="697" x2="1168.75" y2="1067.2" stroke="#000" stroke-width="3.19" stroke-dasharray="12.75 12.75" stroke-dashoffset="0"/>
<path d="M1082.19,1074.60 L1083.43,1072.34 L1084.64,1070.10 L1085.82,1067.86 L1086.98,1065.62 L1088.11,1063.40 L1089.22,1061.18 L1090.30,1058.97 L1091.36,1056.77 L1092.40,1054.57 L1093.41,1052.39 L1094.40,1050.21 L1095.37,1048.03 L1096.31,1045.87 L1097.24,1043.71 L1098.14,1041.56 L1099.02,1039.42 L1099.88,1037.29 L1100.71,1035.16 L1101.53,1033.04 L1102.33,1030.93 L1103.11,1028.82 L1103.87,1026.73 L1104.61,1024.64 L1105.34,1022.55 L1106.04,1020.48 L1106.73,1018.41 L1107.40,1016.35 L1108.05,1014.30 L1108.69,1012.26 L1109.32,1010.22 L1109.92,1008.19 L1110.51,1006.17 L1111.09,1004.16 L1111.65,1002.15 L1112.20,1000.15 L1112.74,998.16 L1113.26,996.18 L1113.78,994.20 L1114.27,992.23 L1114.76,990.27 L1115.24,988.32 L1115.70,986.37 L1116.16,984.43 L1116.61,982.50 L1117.04,980.58 L1117.47,978.66 L1117.89,976.75 L1118.30,974.85 L1118.70,972.96 L1119.09,971.07 L1119.48,969.20 L1119.86,967.32 L1120.23,965.46 L1120.59,963.61 L1120.95,961.76 L1121.30,959.92 L1121.64,958.08 L1121.97,956.26 L1122.30,954.44 L1122.62,952.63 L1122.93,950.83 L1123.24,949.03 L1123.54,947.25 L1123.84,945.47 L1124.13,943.69 L1124.41,941.93 L1124.69,940.17 L1124.96,938.42 L1125.22,936.68 L1125.48,934.94 L1125.73,933.22 L1125.98,931.50 L1126.23,929.78 L1126.46,928.08 L1126.70,926.38 L1126.93,924.69 L1127.15,923.01 L1127.37,921.34 L1127.58,919.67 L1127.79,918.01 L1128.00,916.36 L1128.20,914.71 L1128.40,913.08 L1128.59,911.45 L1128.78,909.83 L1128.97,908.21 L1129.15,906.60 L1129.33,905.01 L1129.50,903.41 L1129.67,901.83 L1129.84,900.25 L1130.01,898.68 L1130.17,897.12 L1130.33,895.57 L1130.49,894.02 L1130.65,892.48 L1130.80,890.95 L1130.95,889.43 L1131.10,887.91 L1131.24,886.40 L1131.39,884.90 L1131.53,883.41 L1131.67,881.92 L1131.81,880.45 L1131.95,878.97 L1132.08,877.51 L1132.22,876.06 L1132.35,874.61 L1132.49,873.17 L1132.62,871.73 L1132.75,870.31 L1132.88,868.89 L1133.01,867.48 L1133.14,866.08 L1133.27,864.68 L1133.40,863.29 L1133.53,861.91 L1133.66,860.54 L1133.79,859.17 L1133.92,857.82 L1134.05,856.47 L1134.18,855.12 L1134.31,853.79 L1134.44,852.46 L1134.58,851.14 L1134.71,849.83 L1134.85,848.52 L1134.98,847.23 L1135.12,845.94 L1135.26,844.65 L1135.40,843.38 L1135.55,842.11 L1135.69,840.85 L1135.84,839.60 L1135.99,838.36 L1136.14,837.12 L1136.29,835.89 L1136.45,834.67 L1136.60,833.45 L1136.76,832.25 L1136.93,831.05 L1137.09,829.86 L1137.26,828.67 L1137.43,827.49 L1137.60,826.33 L1137.77,825.16 L1137.94,824.01 L1138.12,822.86 L1138.30,821.72 L1138.48,820.59 L1138.66,819.47 L1138.85,818.35 L1139.03,817.24 L1139.22,816.14 L1139.41,815.05 L1139.60,813.96 L1139.80,812.88 L1139.99,811.81 L1140.19,810.75 L1140.38,809.69 L1140.58,808.64 L1140.78,807.60 L1140.98,806.57 L1141.19,805.54 L1141.39,804.53 L1141.60,803.52 L1141.80,802.51 L1142.01,801.52 L1142.22,800.53 L1142.43,799.55 L1142.64,798.58 L1142.85,797.61 L1143.07,796.65 L1143.28,795.70 L1143.50,794.76 L1143.71,793.82 L1143.93,792.90 L1144.15,791.98 L1144.37,791.06 L1144.59,790.16 L1144.81,789.26 L1145.03,788.37 L1145.25,787.49 L1145.47,786.61 L1145.69,785.74 L1145.92,784.88 L1146.14,784.03 L1146.36,783.19 L1146.59,782.35 L1146.81,781.52 L1147.04,780.70 L1147.26,779.88 L1147.49,779.08 L1147.71,778.28 L1147.94,777.49 L1148.16,776.70 L1148.39,775.92 L1148.62,775.15 L1148.84,774.39 L1149.07,773.64 L1149.30,772.89 L1149.52,772.15 L1149.75,771.42 L1149.97,770.70 L1150.20,769.98 L1150.42,769.27 L1150.65,768.57 L1150.87,767.88 L1151.10,767.19 L1151.32,766.51 L1151.54,765.84 L1151.77,765.18 L1151.99,764.52 L1152.21,763.87 L1152.43,763.23 L1152.65,762.60 L1152.87,761.97 L1153.09,761.35 L1153.31,760.74 L1153.53,760.14 L1153.74,759.54 L1153.96,758.95 L1154.17,758.37 L1154.39,757.80 L1154.60,757.23 L1154.81,756.67 L1155.02,756.12 L1155.23,755.58 L1155.44,755.05 L1155.65,754.52 L1155.86,754.00 L1156.06,753.48 L1156.27,752.98 L1156.47,752.48 L1156.67,751.99 L1156.87,751.51 L1157.07,751.03 L1157.27,750.56 L1157.46,750.10 L1157.66,749.65 L1157.85,749.21 L1158.05,748.77 L1158.24,748.34 L1158.43,747.92 L1158.62,747.50 L1158.81,747.09 L1159.00,746.70 L1159.18,746.30 L1159.37,745.92 L1159.55,745.54 L1159.74,745.17 L1159.92,744.81 L1160.11,744.45 L1160.29,744.11 L1160.47,743.77 L1160.65,743.44 L1160.83,743.11 L1161.01,742.80 L1161.19,742.49 L1161.37,742.18 L1161.55,741.89 L1161.72,741.60 L1161.90,741.32 L1162.08,741.05 L1162.25,740.79 L1162.43,740.53 L1162.60,740.28 L1162.78,740.04 L1162.95,739.81 L1163.13,739.58 L1163.30,739.36 L1163.48,739.15 L1163.65,738.95 L1163.82,738.75 L1164.00,738.56 L1164.17,738.38 L1164.34,738.21 L1164.52,738.04 L1164.69,737.88 L1164.86,737.73 L1165.04,737.59 L1165.21,737.46 L1165.38,737.33 L1165.56,737.21 L1165.73,737.09 L1165.91,736.99 L1166.08,736.89 L1166.25,736.80 L1166.43,736.72 L1166.60,736.64 L1166.78,736.57 L1166.96,736.51 L1167.13,736.46 L1167.31,736.41 L1167.49,736.38 L1167.66,736.35 L1167.84,736.32 L1168.02,736.31 L1168.20,736.30 L1168.38,736.30 L1168.56,736.31 L1168.74,736.32 L1168.93,736.35 L1169.11,736.38 L1169.29,736.41 L1169.47,736.46 L1169.66,736.51 L1169.84,736.57 L1170.03,736.64 L1170.22,736.72 L1170.40,736.80 L1170.59,736.89 L1170.78,736.99 L1170.96,737.09 L1171.15,737.21 L1171.34,737.33 L1171.53,737.46 L1171.72,737.59 L1171.91,737.73 L1172.10,737.88 L1172.29,738.04 L1172.48,738.21 L1172.68,738.38 L1172.87,738.56 L1173.06,738.75 L1173.25,738.95 L1173.45,739.15 L1173.64,739.36 L1173.83,739.58 L1174.03,739.81 L1174.22,740.04 L1174.42,740.28 L1174.61,740.53 L1174.81,740.79 L1175.00,741.05 L1175.20,741.32 L1175.40,741.60 L1175.59,741.89 L1175.79,742.18 L1175.99,742.49 L1176.18,742.80 L1176.38,743.11 L1176.58,743.44 L1176.78,743.77 L1176.97,744.11 L1177.17,744.45 L1177.37,744.81 L1177.57,745.17 L1177.77,745.54 L1177.97,745.92 L1178.16,746.30 L1178.36,746.70 L1178.56,747.09 L1178.76,747.50 L1178.96,747.92 L1179.16,748.34 L1179.36,748.77 L1179.56,749.21 L1179.76,749.65 L1179.95,750.10 L1180.15,750.56 L1180.35,751.03 L1180.55,751.51 L1180.75,751.99 L1180.95,752.48 L1181.15,752.98 L1181.35,753.48 L1181.55,754.00 L1181.74,754.52 L1181.94,755.05 L1182.14,755.58 L1182.34,756.12 L1182.54,756.67 L1182.74,757.23 L1182.93,757.80 L1183.13,758.37 L1183.33,758.95 L1183.53,759.54 L1183.72,760.14 L1183.92,760.74 L1184.12,761.35 L1184.31,761.97 L1184.51,762.60 L1184.71,763.23 L1184.90,763.87 L1185.10,764.52 L1185.29,765.18 L1185.49,765.84 L1185.68,766.51 L1185.88,767.19 L1186.07,767.88 L1186.26,768.57 L1186.46,769.27 L1186.65,769.98 L1186.84,770.70 L1187.04,771.42 L1187.23,772.15 L1187.42,772.89 L1187.61,773.64 L1187.80,774.39 L1187.99,775.15 L1188.18,775.92 L1188.37,776.70 L1188.56,777.49 L1188.75,778.28 L1188.93,779.08 L1189.12,779.88 L1189.31,780.70 L1189.50,781.52 L1189.68,782.35 L1189.87,783.19 L1190.05,784.03 L1190.24,784.88 L1190.42,785.74 L1190.60,786.61 L1190.78,787.49 L1190.97,788.37 L1191.15,789.26 L1191.33,790.16 L1191.51,791.06 L1191.69,791.98 L1191.87,792.90 L1192.05,793.82 L1192.22,794.76 L1192.40,795.70 L1192.58,796.65 L1192.75,797.61 L1192.93,798.58 L1193.10,799.55 L1193.27,800.53 L1193.45,801.52 L1193.62,802.51 L1193.79,803.52 L1193.96,804.53 L1194.13,805.54 L1194.30,806.57 L1194.46,807.60 L1194.63,808.64 L1194.80,809.69 L1194.96,810.75 L1195.13,811.81 L1195.29,812.88 L1195.45,813.96 L1195.62,815.05 L1195.78,816.14 L1195.94,817.24 L1196.10,818.35 L1196.25,819.47 L1196.41,820.59 L1196.57,821.72 L1196.72,822.86 L1196.88,824.01 L1197.03,825.16 L1197.18,826.33 L1197.34,827.49 L1197.49,828.67 L1197.64,829.86 L1197.78,831.05 L1197.93,832.25 L1198.08,833.45 L1198.22,834.67 L1198.37,835.89 L1198.51,837.12 L1198.65,838.36 L1198.80,839.60 L1198.94,840.85 L1199.08,842.11 L1199.22,843.38 L1199.36,844.65 L1199.49,845.94 L1199.63,847.23 L1199.77,848.52 L1199.91,849.83 L1200.04,851.14 L1200.18,852.46 L1200.32,853.79 L1200.45,855.12 L1200.59,856.47 L1200.73,857.82 L1200.86,859.17 L1201.00,860.54 L1201.14,861.91 L1201.27,863.29 L1201.41,864.68 L1201.55,866.08 L1201.69,867.48 L1201.83,868.89 L1201.96,870.31 L1202.10,871.73 L1202.24,873.17 L1202.38,874.61 L1202.53,876.06 L1202.67,877.51 L1202.81,878.97 L1202.96,880.45 L1203.10,881.92 L1203.25,883.41 L1203.40,884.90 L1203.54,886.40 L1203.69,887.91 L1203.84,889.43 L1204.00,890.95 L1204.15,892.48 L1204.31,894.02 L1204.46,895.57 L1204.62,897.12 L1204.78,898.68 L1204.94,900.25 L1205.11,901.83 L1205.27,903.41 L1205.44,905.01 L1205.61,906.60 L1205.78,908.21 L1205.95,909.83 L1206.12,911.45 L1206.30,913.08 L1206.48,914.71 L1206.66,916.36 L1206.85,918.01 L1207.03,919.67 L1207.22,921.34 L1207.41,923.01 L1207.61,924.69 L1207.80,926.38 L1208.00,928.08 L1208.20,929.78 L1208.41,931.50 L1208.61,933.22 L1208.82,934.94 L1209.04,936.68 L1209.25,938.42 L1209.47,940.17 L1209.70,941.93 L1209.92,943.69 L1210.15,945.47 L1210.38,947.25 L1210.62,949.03 L1210.86,950.83 L1211.10,952.63 L1211.34,954.44 L1211.59,956.26 L1211.85,958.08 L1212.10,959.92 L1212.36,961.76 L1212.63,963.61 L1212.90,965.46 L1213.17,967.32 L1213.45,969.20 L1213.73,971.07 L1214.01,972.96 L1214.30,974.85 L1214.59,976.75 L1214.89,978.66 L1215.19,980.58 L1215.50,982.50 L1215.81,984.43 L1216.12,986.37 L1216.44,988.32 L1216.77,990.27 L1217.10,992.23 L1217.43,994.20 L1217.77,996.18 L1218.11,998.16 L1218.46,1000.15 L1218.82,1002.15 L1219.18,1004.16 L1219.56,1006.17 L1219.94,1008.19 L1220.33,1010.22 L1220.73,1012.26 L1221.15,1014.30 L1221.58,1016.35 L1222.02,1018.41 L1222.48,1020.48 L1222.95,1022.55 L1223.44,1024.64 L1223.94,1026.73 L1224.46,1028.82 L1225.00,1030.93 L1225.56,1033.04 L1226.14,1035.16 L1226.74,1037.29 L1227.36,1039.42 L1228.01,1041.56 L1228.67,1043.71 L1229.36,1045.87 L1230.08,1048.03 L1230.82,1050.21 L1231.59,1052.39 L1232.39,1054.57 L1233.21,1056.77 L1234.07,1058.97 L1234.95,1061.18 L1235.86,1063.40 L1236.81,1065.62 L1237.79,1067.86 L1238.80,1070.10 L1239.84,1072.34 L1240.92,1074.60" fill="none" stroke="#000" stroke-width="3.19" stroke-linejoin="round"/>
<line x1="1096.6" y1="1066.25" x2="1221" y2="1066.25" stroke="#000" stroke-width="3.19"/><path d="M0,0 C-10,-4.7 -22,-10.3 -27.4,-15.2 L-21.9,0 L-27.4,15.2 C-22,10.3 -10,4.7 0,0Z" transform="translate(1078.6 1066.25) rotate(180)" fill="#000"/><path d="M0,0 C-10,-4.7 -22,-10.3 -27.4,-15.2 L-21.9,0 L-27.4,15.2 C-22,10.3 -10,4.7 0,0Z" transform="translate(1239 1066.25) rotate(0)" fill="#000"/>
<rect x="1102.2" y="1027.9" width="122" height="31.3" fill="#fff"/>
<text x="1102" y="1052.5" font-size="29" textLength="114.5" lengthAdjust="spacingAndGlyphs" >Precision</text>
<line x1="1030.3" y1="697.5" x2="1030.3" y2="1076.1" stroke="#000" stroke-width="3.19"/><line x1="1030.3" y1="1076.1" x2="1555.1" y2="1076.1" stroke="#000" stroke-width="3.19"/><path d="M0,0 C-10,-4.7 -22,-10.3 -27.4,-15.2 L-21.9,0 L-27.4,15.2 C-22,10.3 -10,4.7 0,0Z" transform="translate(1030.3 679.5) rotate(-90)" fill="#000"/><path d="M0,0 C-10,-4.7 -22,-10.3 -27.4,-15.2 L-21.9,0 L-27.4,15.2 C-22,10.3 -10,4.7 0,0Z" transform="translate(1573.1 1076.1) rotate(0)" fill="#000"/>
<text x="1109.7" y="694.5" font-size="29" textLength="114" lengthAdjust="spacingAndGlyphs" >Accuracy</text>
<text x="1267" y="1119.5" font-size="29" textLength="50.5" lengthAdjust="spacingAndGlyphs" >Age</text>
<text transform="translate(993.5 1005) rotate(-90)" font-size="29" textLength="236.5" lengthAdjust="spacingAndGlyphs">Probability density</text>
<text x="1509.5" y="698.3" font-size="37" textLength="225.5" lengthAdjust="spacingAndGlyphs" >High accuracy</text>
<text x="1509.5" y="744.3" font-size="37" textLength="231.5" lengthAdjust="spacingAndGlyphs" >High precision</text>
<path d="M0,0H1800V1182H0Z M3,3V1179H1796.5V3Z" fill="#000" fill-rule="evenodd"/>
</svg>
</body></html>
